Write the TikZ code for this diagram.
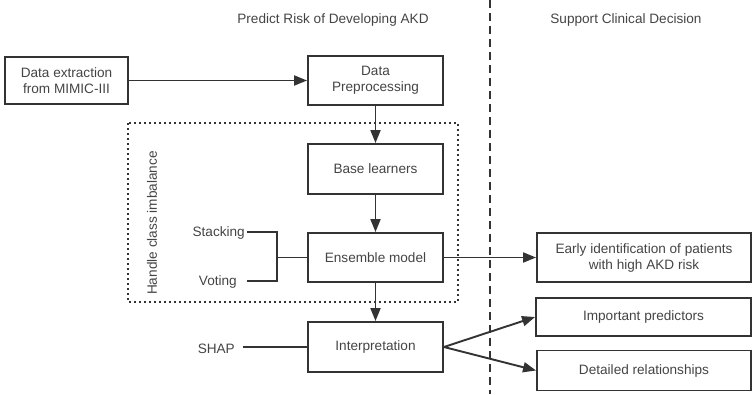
\documentclass[tikz,border=0pt]{standalone}
\usepackage{fontspec}
\setmainfont{Liberation Sans}
\usetikzlibrary{arrows.meta}
\definecolor{ink}{HTML}{333333}
\definecolor{txt}{HTML}{444444}
\tikzset{
  box/.style={draw=ink, line width=1.9pt, inner sep=0pt, align=center, text=txt, font=\fontsize{13.6}{16}\selectfont},
  lbl/.style={text=txt, inner sep=0pt, font=\fontsize{13.6}{16}\selectfont},
  link/.style={draw=ink, line width=1.9pt},
  arr/.style={link, -{Triangle[length=13pt,width=10pt]}},
}
\begin{document}
\begin{tikzpicture}[x=1pt, y=-1pt]
\useasboundingbox (0,0) rectangle (752,394);

% column headings and separator
\node[lbl] (h1) at (333,20) {Predict Risk of Developing AKD};
\node[lbl] (h2) at (626,20) {Support Clinical Decision};
\draw[ink, line width=1.8pt, dash pattern=on 8pt off 5pt] (490,0) -- (490,394);

% class-imbalance frame
\draw[ink, line width=1.8pt, dash pattern=on 2pt off 3pt] (128,123) rectangle (458,302);
\node[lbl, rotate=90] (hci) at (152,223) {Handle class imbalance};

% pipeline boxes
\node[box, minimum width=123pt, minimum height=47pt] (ext) at (66.5,80.5) {Data extraction\\from MIMIC-III};
\node[box, minimum width=135pt, minimum height=49pt] (pre) at (375.5,80.5) {Data\\Preprocessing};
\node[box, minimum width=135pt, minimum height=50pt] (base) at (375.5,169) {Base learners};
\node[box, minimum width=135pt, minimum height=49pt] (ens) at (375.5,257.5) {Ensemble model};
\node[box, minimum width=135pt, minimum height=50pt] (interp) at (375.5,347) {Interpretation};

% outcome boxes
\node[box, minimum width=214pt, minimum height=49pt] (early) at (644,257.5) {Early identification of patients\\with high AKD risk};
\node[box, minimum width=215pt, minimum height=38pt] (imp) at (643.5,317) {Important predictors};
\node[box, minimum width=214pt, minimum height=40pt] (det) at (644,370.5) {Detailed relationships};

% side labels
\node[lbl, anchor=east] (stk) at (245,233) {Stacking};
\node[lbl, anchor=east] (vot) at (237,282) {Voting};
\node[lbl, anchor=east] (shap) at (235,349) {SHAP};

% bracket joining the ensemble strategies
\coordinate (s0) at (247,232);
\coordinate (s1) at (277,232);
\coordinate (v0) at (247,281);
\coordinate (v1) at (277,281);
\coordinate (jn) at (277,257.5);
\draw[link] (s0) -- (s1) -- (v1) -- (v0);
\draw[link] (jn) -- (ens.west);
\coordinate (sh) at (243,347);
\draw[link] (sh) -- (interp.west);

% flow
\draw[arr] (ext.east) -- (pre.west |- ext.east);
\draw[arr] (pre) -- (base);
\draw[arr] (base) -- (ens);
\draw[arr] (ens) -- (interp);
\draw[arr] (ens.east) -- (early.west);
\draw[arr] (interp.east) -- (imp.west);
\draw[arr] (interp.east) -- (det.west);
\end{tikzpicture}
\end{document}
